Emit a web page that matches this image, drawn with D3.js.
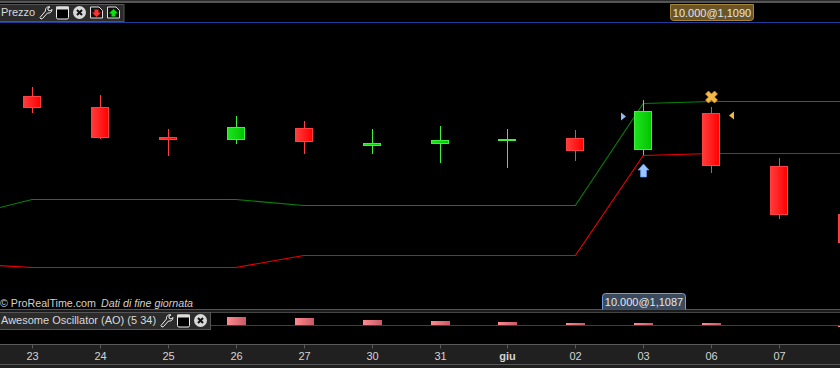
<!DOCTYPE html>
<html>
<head>
<meta charset="utf-8">
<script src="https://cdn.jsdelivr.net/npm/d3@7"></script>
<style>
  html, body { margin: 0; padding: 0; background: #000; overflow: hidden; }
  svg { display: block; }
  text { font-family: "Liberation Sans", Arial, sans-serif; }
</style>
</head>
<body>
<div id="chart"></div>
<script>
// sessions, "22" and "08" sit just outside the window
var dates = ["22", "23", "24", "25", "26", "27", "30", "31", "giu", "02", "03", "06", "07", "08"];
var opens = [null, 1.1300, 1.1289, 1.1259, 1.1256, 1.1268, 1.1250, 1.1252, 1.1255, 1.1258, 1.1246, 1.1283, 1.1230, 1.1182];
var highs = [null, 1.1309, 1.1301, 1.1267, 1.1280, 1.1275, 1.1267, 1.1270, 1.1267, 1.1266, 1.1296, 1.1289, 1.1238, 1.1190];
var lows = [null, 1.1283, 1.1257, 1.1240, 1.1252, 1.1242, 1.1242, 1.1233, 1.1228, 1.1235, 1.1241, 1.1223, 1.1177, 1.1140];
var closes = [null, 1.1288, 1.1258, 1.1256, 1.1269, 1.1254, 1.1253, 1.1256, 1.1257, 1.1245, 1.1285, 1.1230, 1.1181, 1.1153];
var upperBand = [1.1180, 1.1197, 1.1197, 1.1197, 1.1197, 1.1191, 1.1191, 1.1191, 1.1191, 1.1191, 1.1293, 1.1295, 1.1295, 1.1295];
var lowerBand = [1.1133, 1.1129, 1.1129, 1.1129, 1.1129, 1.1141, 1.1141, 1.1141, 1.1141, 1.1141, 1.1241, 1.1243, 1.1243, 1.1243];
var aoValues = [null, 0.0022, 0.0021, 0.0019, 0.0017, 0.0015, 0.0011, 0.0009, 0.0007, 0.0005, 0.0005, 0.0005, 0.0000, -0.0003];
var aoTitle = "Awesome Oscillator (AO) (5 34)";

var width = 840, height = 368;
var pane = {top: 22, bottom: 309};
var bodyW = 18;

var svg = d3.select("#chart").append("svg")
  .attr("width", width)
  .attr("height", height);

var defs = svg.append("defs");
function addGradient(id, from, to) {
  var g = defs.append("linearGradient").attr("id", id);
  g.append("stop").attr("offset", "0%").attr("stop-color", from);
  g.append("stop").attr("offset", "100%").attr("stop-color", to);
}
addGradient("gradRed", "#ff3c3c", "#ff0000");
addGradient("gradGreen", "#1fe31f", "#00c400");
addGradient("gradAo", "#ff8a8f", "#c85a66");
defs.append("clipPath").attr("id", "clipPrice").append("rect")
  .attr("x", 0).attr("y", pane.top).attr("width", width).attr("height", pane.bottom - pane.top);

var xScale = d3.scaleLinear().domain([0, dates.length - 1]).range([-35.9, 847]);
var yScale = d3.scaleLinear().domain([1.1087, 1.1374]).range([pane.bottom, pane.top]);
var aoScale = d3.scaleLinear().domain([-0.0037, 0.0025]).range([344, 313]);

function px(i) { return Math.round(xScale(i)); }
function py(v) { return Math.round(yScale(v)); }

// background chrome
svg.append("rect").attr("width", width).attr("height", height).attr("fill", "#000");
svg.append("rect").attr("width", width).attr("height", 1).attr("fill", "#2a2a2a");
svg.append("rect").attr("y", 1).attr("width", width).attr("height", 2).attr("fill", "#555");
svg.append("rect").attr("y", 309).attr("width", width).attr("height", 1).attr("fill", "#555");
svg.append("rect").attr("y", 310).attr("width", width).attr("height", 2).attr("fill", "#1c1c1c");
svg.append("rect").attr("y", 312).attr("width", width).attr("height", 1).attr("fill", "#444");

// price pane
var price = svg.append("g").attr("clip-path", "url(#clipPrice)");

var lineModel = d3.line()
  .x(function(d, i) { return xScale(i); })
  .y(function(d) { return py(d) + 0.5; });

price.append("path").datum(upperBand)
  .attr("fill", "none").attr("stroke", "#0a820a").attr("stroke-width", 1.1).attr("d", lineModel);
price.append("path").datum(lowerBand)
  .attr("fill", "none").attr("stroke", "#ee0000").attr("stroke-width", 1.1).attr("d", lineModel);

var candles = dates.map(function(d, i) {
  return {i: i, open: opens[i], high: highs[i], low: lows[i], close: closes[i]};
}).filter(function(d) { return d.open !== null; });

var candle = price.selectAll(".candle").data(candles).enter().append("g").attr("class", "candle");
candle.append("rect") // wick
  .attr("x", function(d) { return px(d.i); })
  .attr("y", function(d) { return py(d.high); })
  .attr("width", 1)
  .attr("height", function(d) { return py(d.low) - py(d.high); })
  .attr("fill", function(d) { return d.close > d.open ? "#3ff03f" : "#ff4040"; });
candle.append("rect") // body
  .attr("x", function(d) { return px(d.i) - bodyW / 2 + 0.5; })
  .attr("y", function(d) { return py(Math.max(d.open, d.close)) + 0.5; })
  .attr("width", bodyW - 1)
  .attr("height", function(d) { return py(Math.min(d.open, d.close)) - py(Math.max(d.open, d.close)) - 1; })
  .attr("fill", function(d) { return d.close > d.open ? "url(#gradGreen)" : "url(#gradRed)"; })
  .attr("stroke", function(d) { return d.close > d.open ? "#3ff03f" : "#ff4040"; })
  .attr("stroke-width", 1);

// signals on the chart: index into dates, price level
var markerUp = {i: 10, level: 1.1225};    // blue arrow
var markerX = {i: 11, level: 1.1299};     // gold cross
var markerIn = {i: 10, level: 1.1280};    // blue flag left of 03
var markerOut = {i: 11, level: 1.1281};   // orange flag right of 06

price.append("path")
  .attr("transform", "translate(" + (px(markerUp.i) + 0.5) + "," + py(markerUp.level) + ")")
  .attr("d", "M0,-7 L5.5,-1 L3,-1 L3,6 L-3,6 L-3,-1 L-5.5,-1 Z")
  .attr("fill", "#9cc4ff").attr("stroke", "#5f96e6").attr("stroke-width", 0.7);
price.append("path")
  .attr("transform", "translate(" + (px(markerX.i) + 0.5) + "," + py(markerX.level) + ")")
  .attr("d", "M-3,-6 L0,-3 L3,-6 L6,-3 L3,0 L6,3 L3,6 L0,3 L-3,6 L-6,3 L-3,0 L-6,-3 Z")
  .attr("fill", "#f2b84a").attr("stroke", "#e09a20").attr("stroke-width", 0.6);
price.append("path")
  .attr("transform", "translate(" + (px(markerIn.i) - 22) + "," + (py(markerIn.level) + 0.5) + ")")
  .attr("d", "M0,-4 L5,0 L0,4 Z")
  .attr("fill", "#8fb8f5");
price.append("path")
  .attr("transform", "translate(" + (px(markerOut.i) + 23) + "," + (py(markerOut.level) + 0.5) + ")")
  .attr("d", "M0,-4 L-5,0 L0,4 Z")
  .attr("fill", "#f6b63c");

// oscillator pane
var aoData = dates.map(function(d, i) { return {i: i, v: aoValues[i]}; })
  .filter(function(d) { return d.v !== null && d.v !== 0; });
svg.selectAll(".ao").data(aoData).enter().append("rect")
  .attr("class", "ao")
  .attr("x", function(d) { return px(d.i) - 9; })
  .attr("y", function(d) { return d.v > 0 ? Math.round(aoScale(d.v)) : 326; })
  .attr("width", 19)
  .attr("height", function(d) { return d.v > 0 ? 325 - Math.round(aoScale(d.v)) : 1; })
  .attr("fill", "url(#gradAo)");
svg.append("rect").attr("x", 0).attr("y", 325).attr("width", width).attr("height", 1).attr("fill", "#2a2ae0");

// x axis
svg.append("rect").attr("y", 344).attr("width", width).attr("height", 24).attr("fill", "#202020");
var xAxis = svg.append("g")
  .attr("transform", "translate(0.5,344.5)")
  .call(d3.axisBottom(xScale)
    .tickValues(d3.range(1, dates.length - 1))
    .tickFormat(function(i) { return dates[i]; })
    .tickSize(4)
    .tickPadding(4));
xAxis.select(".domain").attr("stroke", "#5a5a5a").attr("d", "M-1,0H" + width);
xAxis.selectAll(".tick").attr("transform", function(i) { return "translate(" + px(i) + ",0)"; });
xAxis.selectAll("line").attr("stroke", "#5a5a5a");
xAxis.selectAll("text")
  .attr("fill", "#d4d4d4")
  .style("font-family", '"Liberation Sans", Arial, sans-serif')
  .style("font-size", "11px")
  .style("font-weight", function(i) { return dates[i] === "giu" ? "bold" : "normal"; });
svg.append("rect").attr("y", 364).attr("width", width).attr("height", 1).attr("fill", "#555");

// top blue line, order tags
svg.append("rect").attr("y", 22).attr("width", width).attr("height", 1).attr("fill", "#1d3f9e");

function orderTag(x, y, w, h, label, fill, stroke, squareTop) {
  var r = 3, d;
  if (squareTop) d = "M" + x + "," + y + "H" + (x + w) + "V" + (y + h - r) + "Q" + (x + w) + "," + (y + h) + " " + (x + w - r) + "," + (y + h) + "H" + (x + r) + "Q" + x + "," + (y + h) + " " + x + "," + (y + h - r) + "Z";
  else d = "M" + x + "," + (y + h) + "V" + (y + r) + "Q" + x + "," + y + " " + (x + r) + "," + y + "H" + (x + w - r) + "Q" + (x + w) + "," + y + " " + (x + w) + "," + (y + r) + "V" + (y + h);
  svg.append("path").attr("d", d).attr("fill", fill).attr("stroke", stroke);
  svg.append("text").attr("x", x + w / 2).attr("y", y + 12)
    .attr("text-anchor", "middle").attr("font-size", 11).attr("fill", "#e6e6e6").text(label);
}
orderTag(670.5, 4.5, 83, 16, "10.000@1,1090", "#6b5526", "#a5853c", true);
orderTag(602.5, 293.5, 83, 16, "10.000@1,1087", "#3c4a5e", "#6d9fe6", false);

// footer text
var footer = svg.append("text").attr("x", 0).attr("y", 307).attr("font-size", 10.7).attr("fill", "#d0d0d0");
footer.append("tspan").text("© ProRealTime.com");
footer.append("tspan").attr("dx", 5).attr("font-style", "italic").text("Dati di fine giornata");

// pane legends with their little buttons
function wrench(g, x, y) {
  g.append("path")
    .attr("transform", "translate(" + x + "," + y + ")")
    .attr("d", "M0.5,11 L1.5,12.5 L3,12 L8,6.5 C10.5,7 12.5,5.5 12.5,3 L10.5,4.5 L8.5,3.5 L8.5,1.5 L10.5,0.5 C7.5,-0.5 5.5,2 6,4.5 Z")
    .attr("fill", "none").attr("stroke", "#eee").attr("stroke-width", 1);
}
function windowBtn(g, x, y) {
  g.append("rect").attr("x", x + 0.5).attr("y", y + 0.5).attr("width", 12).attr("height", 12).attr("rx", 1.5)
    .attr("fill", "#000").attr("stroke", "#eee");
  g.append("rect").attr("x", x).attr("y", y).attr("width", 13).attr("height", 3).attr("fill", "#ddd");
}
function closeBtn(g, cx, cy) {
  g.append("circle").attr("cx", cx).attr("cy", cy).attr("r", 6.5).attr("fill", "#d8d8d8");
  g.append("path").attr("d", "M" + (cx - 2.5) + "," + (cy - 2.5) + "L" + (cx + 2.5) + "," + (cy + 2.5) + "M" + (cx + 2.5) + "," + (cy - 2.5) + "L" + (cx - 2.5) + "," + (cy + 2.5))
    .attr("stroke", "#111").attr("stroke-width", 2);
}
function docBtn(g, x, y, color, up) {
  g.append("path").attr("d", "M" + (x + 0.5) + "," + (y + 0.5) + "H" + (x + 9) + "L" + (x + 12.5) + "," + (y + 4) + "V" + (y + 11.5) + "H" + (x + 0.5) + "Z")
    .attr("fill", "#111").attr("stroke", "#ddd");
  var arrow = up
    ? [[6.5, 2.5], [11, 7], [8.5, 7], [8.5, 10], [4.5, 10], [4.5, 7], [2, 7]]
    : [[4.5, 3], [8.5, 3], [8.5, 6], [11, 6], [6.5, 10.5], [2, 6], [4.5, 6]];
  g.append("path").attr("d", d3.line()(arrow.map(function(p) { return [x + p[0], y + p[1]]; })) + "Z").attr("fill", color);
}

var legendTop = svg.append("g");
legendTop.append("rect").attr("x", -1).attr("y", 4.5).attr("width", 125).attr("height", 17).attr("fill", "#2b2b2b").attr("stroke", "#555");
legendTop.append("text").attr("x", 1).attr("y", 16).attr("font-size", 11).attr("fill", "#d8d8d8").text("Prezzo");
wrench(legendTop, 39.5, 6.5);
windowBtn(legendTop, 56, 6.5);
closeBtn(legendTop, 79.5, 12.5);
docBtn(legendTop, 90, 6.5, "#ff3030", false);
docBtn(legendTop, 107, 6.5, "#10e010", true);

var legendAo = svg.append("g");
legendAo.append("rect").attr("x", -1).attr("y", 312.5).attr("width", 211.5).attr("height", 17).attr("fill", "#2b2b2b").attr("stroke", "#555");
legendAo.append("text").attr("x", 1).attr("y", 324).attr("font-size", 11).attr("fill", "#d8d8d8").text(aoTitle);
wrench(legendAo, 160.5, 314.5);
windowBtn(legendAo, 177, 314.5);
closeBtn(legendAo, 200.5, 320.5);
</script>
</body>
</html>
